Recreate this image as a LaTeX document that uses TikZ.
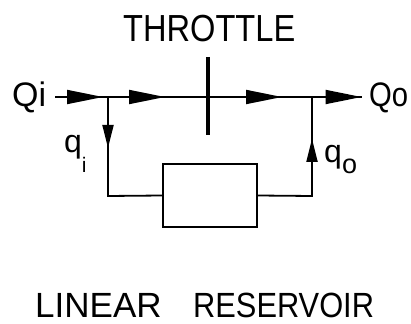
\documentclass[tikz,border=0pt]{standalone}
\usepackage{fontspec}
\setmainfont{Liberation Sans}
\usetikzlibrary{arrows.meta,decorations.markings}
\tikzset{
  bighead/.tip={Triangle[length=36pt,width=14pt]},
  smallhead/.tip={Triangle[length=23pt,width=11pt]}}
\begin{document}
\begin{tikzpicture}[x=1pt,y=-1pt,
  flow/.style={line width=1.8pt},
  txt/.style={inner sep=0pt, anchor=base west},
  bigfont/.style={font=\fontsize{34}{34}\selectfont},
  reservoirbox/.style={draw, line width=2.4pt, minimum width=94pt, minimum height=63pt, inner sep=0pt}]
\useasboundingbox (0,0) rectangle (411,323);

% texts
\node[txt, font=\fontsize{37.7}{38}\selectfont, xscale=0.865] (thr) at (123,42) {THROTTLE};
\node[txt, bigfont] (Qi) at (12,107) {Qi};
\node[txt, bigfont, xscale=0.86] (Qo) at (369,107) {Qo};
\node[txt, font=\fontsize{32}{32}\selectfont] (qi) at (64,152) {q\raisebox{-20pt}{\fontsize{21}{21}\selectfont i}};
\node[txt, font=\fontsize{32}{32}\selectfont] (qo) at (324,162) {q\raisebox{-11pt}{\fontsize{27}{27}\selectfont o}};
\node[txt, font=\fontsize{35}{35}\selectfont] (lin) at (35,317) {LINEAR};
\node[txt, font=\fontsize{35}{35}\selectfont, xscale=0.88] (res) at (193,317) {RESERVOIR};

% geometry
\coordinate (s) at (55,97);
\coordinate (jl) at (108,97);
\coordinate (jr) at (312,97);
\coordinate (e) at (362,97);
\coordinate (bl) at (108,196);
\coordinate (br) at (312,196);
\coordinate (tt) at (208,57);
\coordinate (tb) at (208,135);
\node[reservoirbox] (box) at (210,195.5) {};

% main line
\draw[flow, postaction={decorate}, decoration={markings,
   mark=at position 48pt with {\arrow{bighead}},
   mark=at position 110pt with {\arrow{bighead}},
   mark=at position 227pt with {\arrow{bighead}},
   mark=at position 306.5pt with {\arrow{bighead}}}] (s) -- (e);

% throttle
\draw[line width=4.5pt] (tt) -- (tb);

% branch lines
\draw[flow, postaction={decorate}, decoration={markings,
   mark=at position 51pt with {\arrow{smallhead}}}] (jl) -- (bl) -- (box.west);
\draw[flow, postaction={decorate}, decoration={markings,
   mark=at position 111pt with {\arrow{smallhead}}}] (box.east) -- (br) -- (jr);
\end{tikzpicture}
\end{document}
